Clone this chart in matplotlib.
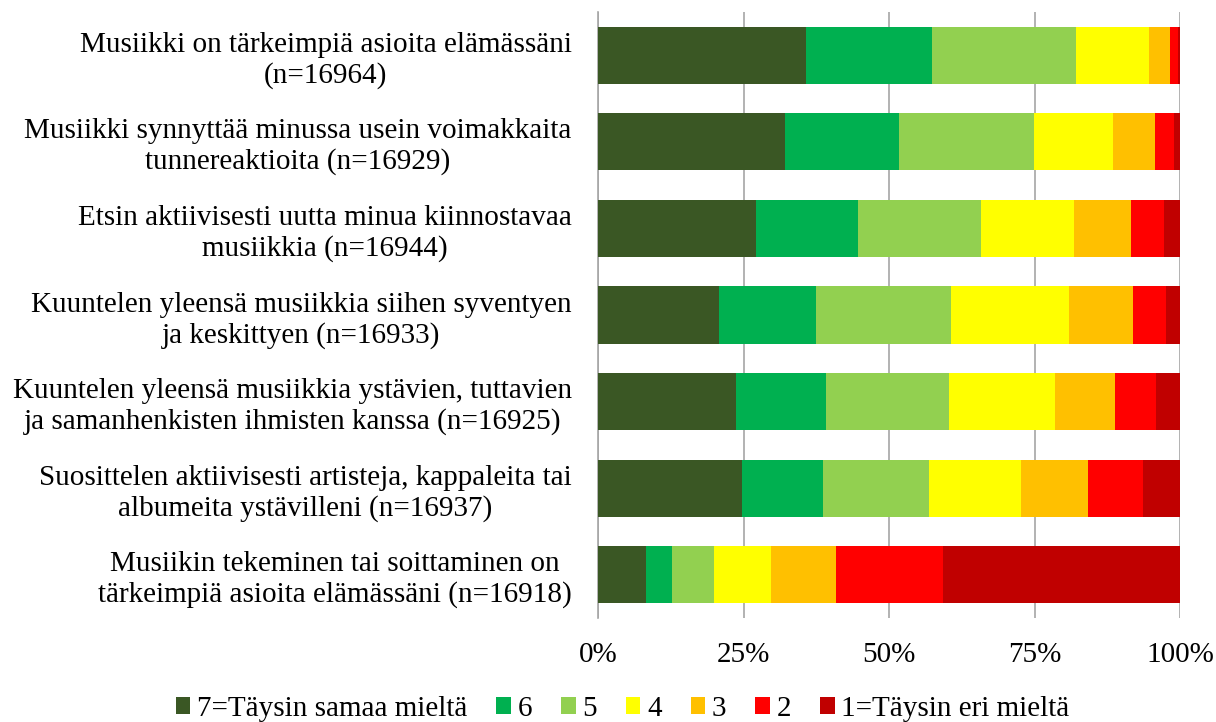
import numpy as np
import matplotlib.pyplot as plt

plt.rcParams["font.family"] = ["Liberation Serif", "DejaVu Serif"]

statements = [
    "Musiikki on tärkeimpiä asioita elämässäni\n(n=16964)",
    "Musiikki synnyttää minussa usein voimakkaita\ntunnereaktioita (n=16929)",
    "Etsin aktiivisesti uutta minua kiinnostavaa\nmusiikkia (n=16944)",
    "Kuuntelen yleensä musiikkia siihen syventyen\nja keskittyen (n=16933)",
    "Kuuntelen yleensä musiikkia ystävien, tuttavien\nja samanhenkisten ihmisten kanssa (n=16925)",
    "Suosittelen aktiivisesti artisteja, kappaleita tai\nalbumeita ystävilleni (n=16937)",
    "Musiikin tekeminen tai soittaminen on\ntärkeimpiä asioita elämässäni (n=16918)",
]

levels = ["7=Täysin samaa mieltä", "6", "5", "4", "3", "2", "1=Täysin eri mieltä"]
colors = ["#3A5724", "#00B050", "#92D050", "#FFFF00", "#FFC000", "#FF0000", "#C00000"]

# percentages per statement, in order 7 ... 1
s7 = [35.8, 32.2, 27.2, 20.8, 23.7, 24.7, 8.2]
s6 = [21.5, 19.6, 17.4, 16.7, 15.5, 14.0, 4.5]
s5 = [24.8, 23.1, 21.2, 23.2, 21.1, 18.2, 7.2]
s4 = [12.6, 13.6, 15.9, 20.2, 18.2, 15.7, 9.8]
s3 = [3.5, 7.2, 9.9, 11.0, 10.3, 11.6, 11.2]
s2 = [1.4, 3.2, 5.6, 5.7, 7.0, 9.5, 18.4]
s1 = [0.4, 1.1, 2.8, 2.4, 4.2, 6.3, 40.7]
series = [s7, s6, s5, s4, s3, s2, s1]

fig = plt.figure(figsize=(12.16, 7.22), dpi=100)
ax = fig.add_axes([0.4918, 0.144, 0.4786, 0.8396])

y = np.arange(len(statements))
left = np.zeros(len(statements))
for vals, lab, col in zip(series, levels, colors):
    vals = np.array(vals)
    ax.barh(y, vals, left=left, height=0.66, color=col, label=lab, linewidth=0, zorder=3)
    left += vals

ax.set_ylim(len(statements) - 0.5, -0.5)
ax.set_xlim(0, 100)
ax.set_xticks([0, 25, 50, 75, 100])
ax.set_xticklabels(["0%", "25%", "50%", "75%", "100%"], fontsize=21)
ax.set_yticks(y)
ax.set_yticklabels(statements, fontsize=21)
for t in ax.get_yticklabels():
    t.set_multialignment("center")
    t.set_linespacing(1.2)
ax.tick_params(axis="y", length=0, pad=19)
ax.tick_params(axis="x", length=0, pad=17)
ax.grid(axis="x", color="#a6a6a6", linewidth=1.2, zorder=0)
for side in ["top", "right", "bottom"]:
    ax.spines[side].set_visible(False)
ax.spines["left"].set_color("#a6a6a6")
ax.spines["left"].set_linewidth(1.2)

fig.legend(loc="lower center", bbox_to_anchor=(0.512, -0.036), ncol=7, frameon=False,
           fontsize=21, handlelength=0.5, handleheight=0.5, handletextpad=0.22,
           columnspacing=1.0)

fig.savefig("out.png", dpi=100)
